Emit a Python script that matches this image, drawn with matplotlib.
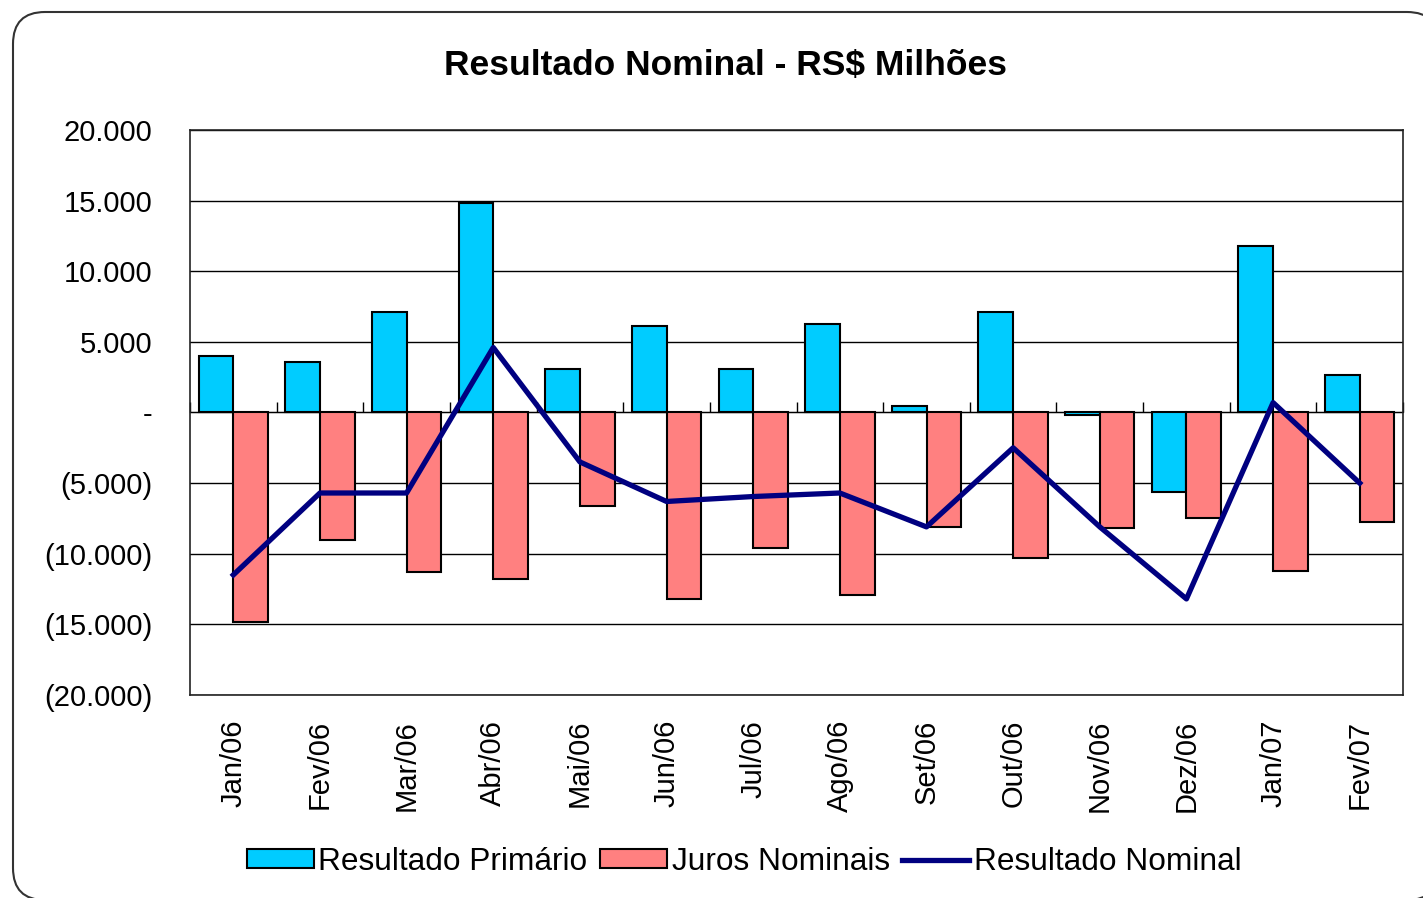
import numpy as np
import matplotlib.pyplot as plt
from matplotlib.patches import FancyBboxPatch
from matplotlib.ticker import FuncFormatter, NullFormatter

plt.rcParams['font.family'] = ['Liberation Sans', 'DejaVu Sans']

meses = ["Jan/06", "Fev/06", "Mar/06", "Abr/06", "Mai/06", "Jun/06", "Jul/06",
         "Ago/06", "Set/06", "Out/06", "Nov/06", "Dez/06", "Jan/07", "Fev/07"]
primario = [4000, 3550, 7150, 14800, 3050, 6100, 3050,
            6300, 450, 7150, -150, -5600, 11800, 2650]
juros = [-14800, -9050, -11300, -11800, -6650, -13200, -9600,
         -12900, -8100, -10300, -8200, -7500, -11200, -7750]
nominal = [-11500, -5700, -5700, 4600, -3500, -6300, -5950,
           -5700, -8100, -2500, -8100, -13200, 700, -5000]


def fmt_br(v, pos):
    if v == 0:
        return "-"
    s = f"{abs(v):,.0f}".replace(",", ".")
    return f"({s})" if v < 0 else s


fig = plt.figure(figsize=(14.23, 8.98), dpi=100)

# moldura arredondada
bg = fig.add_axes([0, 0, 1, 1], zorder=0)
bg.set_xlim(0, 1423)
bg.set_ylim(898, 0)
bg.axis("off")
bg.add_patch(FancyBboxPatch((13, 12), 1426, 888,
                            boxstyle="round,pad=0,rounding_size=32",
                            facecolor="white", edgecolor="#333333", lw=1.5))

ax = fig.add_axes([0.1335, 0.2261, 0.8525, 0.6291], zorder=1)
x = np.arange(len(meses))
w = 0.4
b1 = ax.bar(x - w / 2, primario, w, color="#00CCFF", edgecolor="black", lw=1.5,
            label="Resultado Primário", zorder=3)
b2 = ax.bar(x + w / 2, juros, w, color="#FF8080", edgecolor="black", lw=1.5,
            label="Juros Nominais", zorder=3)
l1, = ax.plot(x, nominal, color="#000080", lw=3.8, label="Resultado Nominal",
              zorder=4)

ax.set_xlim(-0.5, len(meses) - 0.5)
ax.set_ylim(-20000, 20000)
ax.set_yticks(np.arange(-20000, 20001, 5000))
ax.yaxis.set_major_formatter(FuncFormatter(fmt_br))
ax.grid(axis="y", color="black", lw=1.0, zorder=0)
ax.set_axisbelow(True)
for sp in ax.spines.values():
    sp.set_color("#222222")
    sp.set_linewidth(1.2)

ax.set_xticks(x)
ax.set_xticklabels(meses, rotation=90, va="top", ha="center")
ax.tick_params(axis="x", length=0, pad=18, labelsize=21)
ax.tick_params(axis="y", length=0, pad=27, labelsize=21)

# eixo das categorias no zero, com marcas entre os meses
sec = ax.secondary_xaxis(0.5)
sec.set_xticks(np.arange(-0.5, len(meses), 1.0))
sec.xaxis.set_major_formatter(NullFormatter())
sec.tick_params(axis="x", direction="out", length=7, width=1)

fig.text(0.510, 0.927, "Resultado Nominal - RS$ Milhões", ha="center",
         va="center", fontsize=25.5, fontweight="bold")

fig.legend([b1, b2, l1], ["Resultado Primário", "Juros Nominais", "Resultado Nominal"],
           loc="center", bbox_to_anchor=(0.523, 0.040), ncol=3, frameon=False,
           fontsize=22.8, handlelength=2.1, handleheight=0.55, handletextpad=0.15,
           columnspacing=0.4, borderaxespad=0)

fig.savefig("out.png", dpi=100)
